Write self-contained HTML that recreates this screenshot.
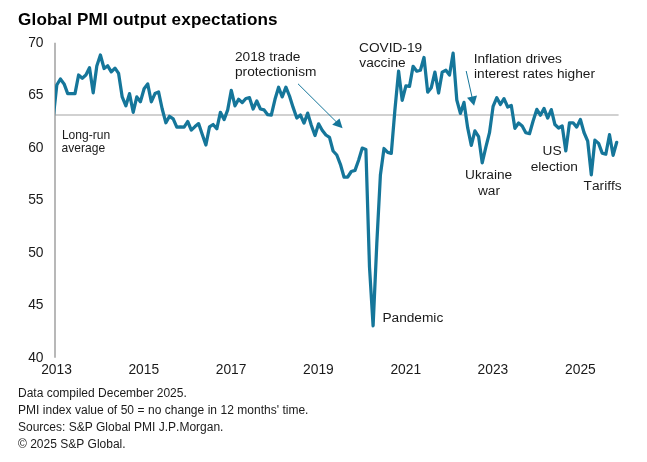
<!DOCTYPE html>
<html><head><meta charset="utf-8"><title>Global PMI output expectations</title>
<style>
html,body{margin:0;padding:0;background:#fff;}
body{width:647px;height:462px;overflow:hidden;font-family:"Liberation Sans",Arial,sans-serif;}
svg{display:block;}
text{font-family:"Liberation Sans",Arial,sans-serif;fill:#1a1a1a;font-kerning:none;}
.t{font-size:17.1px;font-weight:bold;fill:#000;letter-spacing:0.14px;}
.ax{font-size:13.8px;}
.an{font-size:13.7px;}
.sm{font-size:12.05px;}
.ft{font-size:12px;}
</style></head><body>
<svg width="647" height="462" viewBox="0 0 647 462">
<rect width="647" height="462" fill="#fff"/>
<text class="t" x="18.1" y="25.3">Global PMI output expectations</text>
<line x1="55" y1="115" x2="618.6" y2="115" stroke="#c2c2c2" stroke-width="1.5"/>
<line x1="55" y1="42.7" x2="55" y2="357.7" stroke="#a0a0a0" stroke-width="1.5"/>
<g class="ax" text-anchor="end">
<text x="43.5" y="47">70</text>
<text x="43.5" y="99.45">65</text>
<text x="43.5" y="151.9">60</text>
<text x="43.5" y="204.35">55</text>
<text x="43.5" y="256.8">50</text>
<text x="43.5" y="309.25">45</text>
<text x="43.5" y="361.7">40</text>
</g>
<g class="ax" text-anchor="middle">
<text x="56.5" y="374.3">2013</text>
<text x="143.8" y="374.3">2015</text>
<text x="231.1" y="374.3">2017</text>
<text x="318.4" y="374.3">2019</text>
<text x="405.8" y="374.3">2021</text>
<text x="492.9" y="374.3">2023</text>
<text x="580.4" y="374.3">2025</text>
</g>
<clipPath id="cp"><rect x="55" y="30" width="575" height="330"/></clipPath>
<polyline clip-path="url(#cp)" fill="none" stroke="#15769a" stroke-width="3.25" stroke-linejoin="round" stroke-linecap="round" points="53.2,118.0 56.8,85.0 60.4,79.0 64.1,83.9 67.7,93.6 71.3,93.6 75.0,93.6 78.6,75.0 82.3,78.2 85.9,75.0 89.5,67.7 93.2,92.8 96.8,66.0 100.4,55.0 104.1,68.5 107.7,65.8 111.3,71.8 115.0,68.2 118.6,73.4 122.2,96.9 125.9,105.8 129.5,93.6 133.2,112.3 136.8,96.9 140.4,101.8 144.1,88.8 147.7,83.9 151.3,101.8 155.0,93.6 158.6,92.0 162.2,109.0 165.9,122.8 169.5,116.3 173.2,118.8 176.8,127.2 180.4,126.9 184.1,127.2 187.7,121.5 191.3,130.1 195.0,126.6 198.6,123.6 202.2,134.2 205.9,145.0 209.5,126.9 213.1,124.5 216.8,128.8 220.4,112.3 224.1,119.6 227.7,109.9 231.3,90.4 235.0,105.8 238.6,99.3 242.2,102.6 245.9,98.5 249.5,97.7 253.1,109.0 256.8,101.0 260.4,109.0 264.1,109.9 267.7,114.7 271.3,115.2 275.0,99.3 278.6,87.2 282.2,96.9 285.9,87.2 289.5,96.0 293.1,107.4 296.8,118.0 300.4,115.0 304.0,123.1 307.7,113.1 311.3,125.3 315.0,135.5 318.6,123.8 322.2,130.2 325.9,135.0 329.5,137.4 333.1,151.0 336.8,155.0 340.4,164.3 344.0,177.0 347.7,177.0 351.3,171.5 355.0,170.4 358.6,160.3 362.2,148.1 365.9,149.5 369.5,267.0 373.1,325.8 376.8,243.6 380.4,175.0 384.0,148.5 387.7,152.4 391.3,153.4 394.9,110.0 398.6,71.2 402.2,100.4 405.9,85.8 409.5,86.4 413.1,66.3 416.8,71.2 420.4,70.2 424.0,57.5 427.7,92.2 431.3,87.7 434.9,72.1 438.6,93.0 442.2,72.1 445.9,70.2 449.5,75.1 453.1,53.2 456.8,100.0 460.4,113.4 464.0,102.4 467.7,127.9 471.3,145.4 474.9,130.8 478.6,136.6 482.2,162.9 485.8,147.3 489.5,132.7 493.1,106.4 496.8,97.7 500.4,104.5 504.0,98.6 507.7,107.0 511.3,105.5 514.9,128.3 518.6,123.0 522.2,125.9 525.8,132.7 529.5,133.7 533.1,121.0 536.8,109.4 540.4,115.2 544.0,108.4 547.7,118.1 551.3,109.6 554.9,124.5 558.6,128.0 562.2,126.0 565.8,150.9 569.5,122.8 573.1,122.8 576.7,127.1 580.4,119.5 584.0,132.5 587.7,141.2 591.3,174.8 594.9,140.1 598.6,143.4 602.2,153.1 605.8,154.2 609.5,134.7 613.1,155.3 616.7,142.3"/>
<g class="sm">
<text x="61.9" y="138.8">Long-run</text>
<text x="61.6" y="151.8">average</text>
</g>
<g class="an">
<text x="235" y="60.6">2018 trade</text>
<text x="235" y="76">protectionism</text>
<text x="359" y="51.6">COVID-19</text>
<text x="359.3" y="67">vaccine</text>
<text x="473.7" y="62.7">Inflation drives</text>
<text x="474" y="78">interest rates higher</text>
<text x="488.6" y="178.9" text-anchor="middle">Ukraine</text>
<text x="489" y="194.6" text-anchor="middle">war</text>
<text x="542.6" y="154.8">US</text>
<text x="530.7" y="170.7">election</text>
<text x="583.6" y="189.8">Tariffs</text>
<text x="382.4" y="321.9">Pandemic</text>
</g>
<g stroke="#15769a" stroke-width="1" fill="#15769a">
<line x1="298" y1="83.8" x2="337" y2="122.5"/>
<polygon points="342.6,128.3 332.2,124.8 339.5,118.4" stroke="none"/>
<line x1="466.2" y1="71" x2="472" y2="97"/>
<polygon points="474.1,105.8 467,97.8 477,95.5" stroke="none"/>
</g>
<g class="ft">
<text x="18" y="396.8">Data compiled December 2025.</text>
<text x="18" y="414" style="word-spacing:0.15px">PMI index value of 50 = no change in 12 months' time.</text>
<text x="18" y="431.2">Sources: S&amp;P Global PMI J.P.Morgan.</text>
<text x="18" y="448.4">© 2025 S&amp;P Global.</text>
</g>
</svg>
</body></html>
